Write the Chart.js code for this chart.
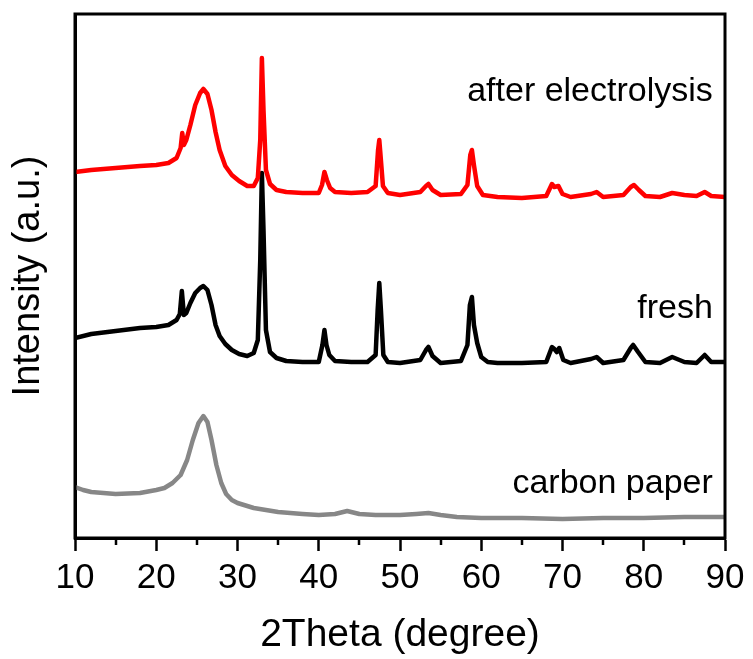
<!DOCTYPE html>
<html>
<head>
<meta charset="utf-8">
<script src="https://cdn.jsdelivr.net/npm/chart.js@4"></script>
<style>
  html, body { margin: 0; padding: 0; background: #fff; }
  #wrap { width: 753px; height: 659px; }
</style>
</head>
<body>
<div id="wrap"><canvas id="xrd" width="753" height="659"></canvas></div>
<script>
// 2Theta positions and intensities (a.u.)
const redTheta = [10, 12, 15, 18, 20, 21.5, 22.5, 23.0, 23.2, 23.4, 23.7, 24.2, 24.8, 25.4, 25.8, 26.3, 26.8, 27.3, 27.8, 28.5, 29.3, 30.2, 31.2, 32.0, 32.5, 32.8, 33.0, 33.2, 33.5, 34.0, 34.8, 36, 38, 40, 40.4, 40.7, 41.0, 41.4, 42, 44, 46, 47.0, 47.3, 47.45, 47.6, 47.9, 48.5, 50, 52.5, 53.2, 53.5, 54.0, 55, 57.5, 58.3, 58.65, 58.85, 59.1, 59.5, 60.2, 62, 65, 68, 68.7, 69.0, 69.5, 70.0, 71, 73.5, 74.2, 75, 77.5, 78.4, 78.8, 79.4, 80.2, 82, 83.5, 85, 86.5, 87.5, 88.3, 90];
const redInt = [366, 368, 370, 372, 373, 375, 380, 390, 405, 393, 398, 413, 433, 445, 449, 444, 428, 406, 388, 372, 363, 357, 352, 352, 360, 398, 480, 428, 368, 354, 348, 346, 345, 345, 353, 366, 358, 350, 346, 345, 346, 352, 388, 398, 383, 352, 345, 343, 346, 352, 354, 348, 343, 344, 353, 383, 388, 373, 352, 343, 341, 340, 342, 354, 351, 352, 344, 341, 344, 346, 341, 343, 351, 353, 348, 342, 341, 345, 343, 342, 346, 342, 341];

const blackTheta = [10, 12, 15, 18, 20, 21.5, 22.5, 22.9, 23.15, 23.4, 23.7, 24.2, 24.8, 25.4, 25.8, 26.3, 26.8, 27.3, 27.8, 28.5, 29.3, 30.2, 31.2, 32.0, 32.5, 32.8, 33.0, 33.2, 33.5, 34.0, 34.8, 36, 38, 40, 40.45, 40.7, 40.95, 41.3, 42, 44, 46, 47.0, 47.25, 47.45, 47.65, 47.95, 48.5, 50, 52.5, 53.2, 53.5, 54.0, 55, 57.5, 58.3, 58.6, 58.85, 59.1, 59.5, 60.0, 60.8, 62, 65, 68, 68.7, 69.0, 69.3, 69.6, 70.1, 71, 73.5, 74.2, 75, 77.5, 78.4, 78.7, 79.3, 80.2, 82, 83.5, 85, 86.5, 87.5, 88.3, 90];
const blackInt = [200, 204, 207, 210, 211, 213, 218, 224, 247, 223, 225, 235, 245, 250, 252, 248, 233, 213, 202, 194, 188, 184, 182, 185, 198, 278, 365, 308, 208, 186, 180, 177, 176, 176, 193, 208, 193, 183, 177, 176, 176, 183, 228, 255, 228, 183, 176, 175, 178, 188, 191, 182, 175, 177, 193, 233, 241, 213, 195, 181, 176, 175, 175, 176, 191, 189, 186, 190, 178, 175, 179, 181, 175, 178, 190, 193, 186, 176, 175, 181, 176, 175, 183, 176, 176];

const grayTheta = [10, 11, 12, 15, 18, 20, 21, 22, 23, 23.8, 24.5, 25.2, 25.8, 26.3, 26.8, 27.4, 28, 28.6, 29.3, 30, 32, 35, 38, 40, 42, 43.5, 45, 47, 50, 52, 53.5, 55, 57, 60, 65, 70, 75, 80, 85, 90];
const grayInt = [51, 48, 46, 44, 45, 48, 50, 55, 63, 78, 98, 115, 122, 116, 98, 73, 55, 44, 38, 35, 30, 26, 24, 23, 24, 27, 24, 23, 23, 24, 25, 23, 21, 20, 20, 19, 20, 20, 21, 21];

const seriesNames = ['after electrolysis', 'fresh', 'carbon paper'];
const xTicks = [10, 20, 30, 40, 50, 60, 70, 80, 90];
const xMinorTicks = [15, 25, 35, 45, 55, 65, 75, 85];

function pts(xs, ys) {
  return xs.map((x, i) => ({x: x, y: ys[i]}));
}

const FONT = "'Liberation Sans', Arial, sans-serif";

const xrdFrame = {
  id: 'xrdFrame',
  afterDraw(chart, args, options) {
    const {ctx, chartArea: {left, top, right, bottom}, scales: {x, y}} = chart;
    ctx.save();
    ctx.strokeStyle = '#000';
    ctx.lineWidth = 3;
    ctx.strokeRect(left, top, right - left, bottom - top);

    // minor ticks, outward
    ctx.lineWidth = 2.5;
    options.minor.forEach((v) => {
      const px = Math.round(x.getPixelForValue(v));
      ctx.beginPath();
      ctx.moveTo(px, bottom);
      ctx.lineTo(px, bottom + 7);
      ctx.stroke();
    });

    // curve names
    ctx.fillStyle = '#000';
    ctx.font = '34px ' + FONT;
    ctx.textAlign = 'right';
    ctx.textBaseline = 'alphabetic';
    options.labels.forEach((lab) => {
      ctx.fillText(lab.text, x.getPixelForValue(lab.at[0]), y.getPixelForValue(lab.at[1]));
    });
    ctx.restore();
  }
};

new Chart(document.getElementById('xrd'), {
  type: 'line',
  data: {
    datasets: [
      {label: seriesNames[0], data: pts(redTheta, redInt), borderColor: '#ff0000'},
      {label: seriesNames[1], data: pts(blackTheta, blackInt), borderColor: '#000000'},
      {label: seriesNames[2], data: pts(grayTheta, grayInt), borderColor: '#878787'}
    ]
  },
  options: {
    responsive: false,
    animation: false,
    events: [],
    elements: {
      point: {radius: 0},
      line: {borderWidth: 4.5, tension: 0, borderJoinStyle: 'round', borderCapStyle: 'round'}
    },
    layout: {padding: {top: 14, right: 28, left: 0, bottom: 0}},
    scales: {
      x: {
        type: 'linear',
        min: 10,
        max: 90,
        afterBuildTicks(scale) {
          scale.ticks = xTicks.map(v => ({value: v}));
        },
        afterFit(scale) {
          scale.height = 121;
        },
        grid: {
          drawOnChartArea: false,
          drawTicks: true,
          tickLength: 13,
          tickWidth: 2.5,
          tickColor: '#000'
        },
        border: {display: true, color: '#000', width: 3},
        ticks: {
          color: '#000',
          padding: 6,
          maxRotation: 0,
          font: {size: 35, family: FONT}
        },
        title: {
          display: true,
          text: '2Theta (degree)',
          color: '#000',
          padding: {top: 0, bottom: 0},
          font: {size: 39, family: FONT}
        }
      },
      y: {
        type: 'linear',
        min: 0,
        max: 524,
        afterFit(scale) {
          scale.width = 75;
        },
        grid: {display: false},
        border: {display: true, color: '#000', width: 3},
        ticks: {display: false},
        title: {
          display: true,
          text: 'Intensity (a.u.)',
          color: '#000',
          padding: {top: 6, bottom: 0},
          font: {size: 38, family: FONT}
        }
      }
    },
    plugins: {
      legend: {display: false},
      tooltip: {enabled: false},
      xrdFrame: {
        minor: xMinorTicks,
        labels: [
          {text: seriesNames[0], at: [88.5, 437]},
          {text: seriesNames[1], at: [88.5, 220]},
          {text: seriesNames[2], at: [88.5, 45]}
        ]
      }
    }
  },
  plugins: [xrdFrame]
});
</script>
</body>
</html>
